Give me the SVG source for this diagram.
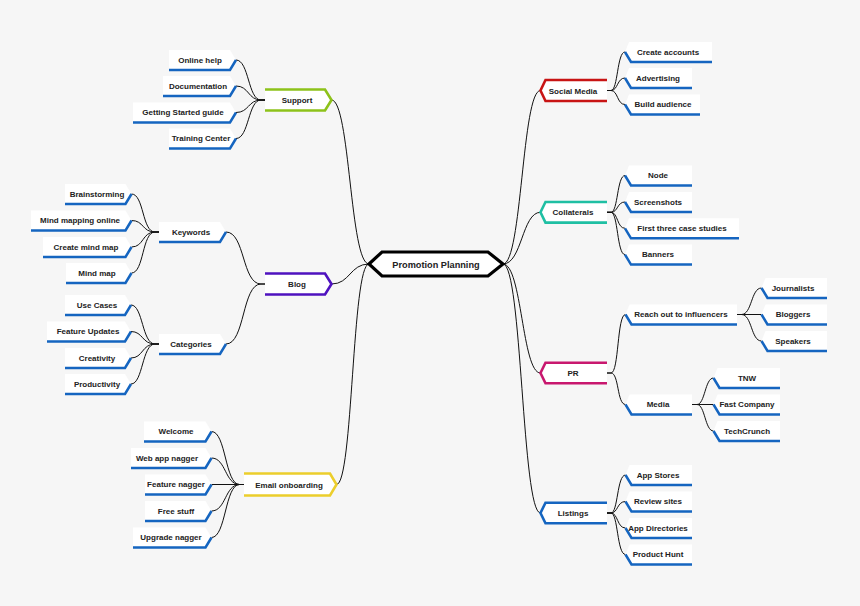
<svg xmlns="http://www.w3.org/2000/svg" width="860" height="606" viewBox="0 0 860 606">
<style>
.bg{fill:#f6f6f6}
.lf{fill:#ffffff;stroke:none}
.ul{fill:none;stroke:#1565c0;stroke-width:2.5;stroke-linejoin:miter}
.l1{fill:#ffffff;stroke-width:2.6}
.t{font-family:"Liberation Sans",Arial,sans-serif;font-weight:bold;font-size:8px;fill:#222;text-anchor:middle;dominant-baseline:central}
.c{fill:none;stroke:#111;stroke-width:1}
</style>
<rect class="bg" x="0" y="0" width="860" height="606"/>

<g id="connectors">
<!-- center to level 1 -->
<path class="c" d="M503,264 C522,264 522,90.5 540.5,90.5"/>
<path class="c" d="M503,264 C522,264 522,212.3 540.5,212.3"/>
<path class="c" d="M503,264 C522,264 522,373 540.5,373"/>
<path class="c" d="M503,264 C522,264 522,513 540.5,513"/>
<path class="c" d="M369,264 C350,264 350,100 331.5,100"/>
<path class="c" d="M369,264 C350,264 350,284 331.5,284"/>
<path class="c" d="M369,264 C352,264 353,484.5 336.5,484.5"/>
<!-- Support -->
<path class="c" d="M265,100 H261 C248,100 249,60 236,60"/>
<path class="c" d="M265,100 H261 C248,100 249,86 236,86"/>
<path class="c" d="M265,100 H261 C248,100 249,112.5 236,112.5"/>
<path class="c" d="M265,100 H261 C248,100 249,138.5 236,138.5"/>
<!-- Blog -->
<path class="c" d="M265,284 H261 C242,284 245,232 226,232"/>
<path class="c" d="M265,284 H261 C242,284 245,344 226,344"/>
<!-- Keywords -->
<path class="c" d="M159,232 H155 C142,232 144,194 131.5,194"/>
<path class="c" d="M159,232 H155 C142,232 144,220.5 131.5,220.5"/>
<path class="c" d="M159,232 H155 C142,232 144,247 131.5,247"/>
<path class="c" d="M159,232 H155 C142,232 144,273 131.5,273"/>
<!-- Categories -->
<path class="c" d="M159,344 H155 C142,344 143,305 131,305"/>
<path class="c" d="M159,344 H155 C142,344 143,331.5 131,331.5"/>
<path class="c" d="M159,344 H155 C142,344 143,358 131,358"/>
<path class="c" d="M159,344 H155 C142,344 143,384 131,384"/>
<!-- Email onboarding -->
<path class="c" d="M244,484.5 H239.5 C225,484.5 226,431.5 211.5,431.5"/>
<path class="c" d="M244,484.5 H239.5 C225,484.5 226,458 211.5,458"/>
<path class="c" d="M244,484.5 H211.5"/>
<path class="c" d="M244,484.5 H239.5 C225,484.5 226,511 211.5,511"/>
<path class="c" d="M244,484.5 H239.5 C225,484.5 226,537.5 211.5,537.5"/>
<!-- Social Media -->
<path class="c" d="M607,90.5 H611 C618,90.5 617,52 625,52"/>
<path class="c" d="M607,90.5 H611 C618,90.5 617,78 625,78"/>
<path class="c" d="M607,90.5 H611 C618,90.5 617,104.5 625,104.5"/>
<!-- Collaterals -->
<path class="c" d="M607,212.3 H611 C618,212.3 617,175.5 625,175.5"/>
<path class="c" d="M607,212.3 H611 C618,212.3 617,202 625,202"/>
<path class="c" d="M607,212.3 H611 C618,212.3 617,228.3 625,228.3"/>
<path class="c" d="M607,212.3 H611 C618,212.3 617,254.6 625,254.6"/>
<!-- PR -->
<path class="c" d="M607,373 H611 C619,373 617,314.5 625.5,314.5"/>
<path class="c" d="M607,373 H611 C619,373 617,404.5 625.5,404.5"/>
<!-- Reach out -->
<path class="c" d="M737,314.5 H741.5 C752,314.5 751,288 761.5,288"/>
<path class="c" d="M737,314.5 H761.5" stroke="#777"/>
<path class="c" d="M737,314.5 H741.5 C752,314.5 751,341 761.5,341"/>
<!-- Media -->
<path class="c" d="M692,404.5 H697 C705,404.5 705,378 713.5,378"/>
<path class="c" d="M692,404.5 H713.5" stroke="#888"/>
<path class="c" d="M692,404.5 H697 C705,404.5 705,431 713.5,431"/>
<!-- Listings -->
<path class="c" d="M607,513 H611 C618,513 617,475 625.5,475"/>
<path class="c" d="M607,513 H611 C618,513 617,501.5 625.5,501.5"/>
<path class="c" d="M607,513 H611 C618,513 617,528 625.5,528"/>
<path class="c" d="M607,513 H611 C618,513 617,554.5 625.5,554.5"/>
</g>

<g id="center">
<path d="M369,264 L382,252 H488 L503,264 L488,276 H382 Z" fill="#fff" stroke="#000" stroke-width="3.2" stroke-linejoin="miter"/>
<text class="t" x="436" y="264.5" style="font-size:9.2px">Promotion Planning</text>
</g>

<!-- LEFT LEVEL 1 -->
<g id="support">
<path class="l1" stroke="#8dc21a" d="M265,89.5 H325 L331.5,100 L325,110.5 H265"/>
<text class="t" x="297" y="100.5">Support</text>
</g>
<g id="blog">
<path class="l1" stroke="#4f12bf" d="M265,273.5 H325 L331.5,284 L325,294.5 H265"/>
<text class="t" x="297" y="284.5">Blog</text>
</g>
<g id="email-onboarding">
<path class="l1" stroke="#ecce2c" d="M244,473.5 H330 L336.5,484.5 L330,495.5 H244"/>
<text class="t" x="289" y="485">Email onboarding</text>
</g>

<!-- RIGHT LEVEL 1 -->
<g id="social-media">
<path class="l1" stroke="#c81414" d="M607,80 H545.5 L540.5,90.5 L545.5,101 H607"/>
<text class="t" x="573" y="91">Social Media</text>
</g>
<g id="collaterals">
<path class="l1" stroke="#1fbfa3" d="M607,202 H545.5 L540.5,212.3 L545.5,222.6 H607"/>
<text class="t" x="573" y="212.8">Collaterals</text>
</g>
<g id="pr">
<path class="l1" stroke="#c8176e" d="M607,362.7 H545.5 L540.5,373 L545.5,383.3 H607"/>
<text class="t" x="573" y="373.5">PR</text>
</g>
<g id="listings">
<path class="l1" stroke="#1565c0" d="M607,502.7 H545.5 L540.5,513 L545.5,523.3 H607"/>
<text class="t" x="573" y="513.5">Listings</text>
</g>

<!-- LEFT LEAVES: support -->
<g id="online-help"><path class="lf" d="M169,50 H230 L236,60 L230,70 H169 Z"/><path class="ul" d="M169,70 H230 L236,60"/><text class="t" x="200" y="60">Online help</text></g>
<g id="documentation"><path class="lf" d="M163,76 H230 L236,86 L230,96 H163 Z"/><path class="ul" d="M163,96 H230 L236,86"/><text class="t" x="198" y="86">Documentation</text></g>
<g id="getting-started"><path class="lf" d="M133,102.5 H230 L236,112.5 L230,122.5 H133 Z"/><path class="ul" d="M133,122.5 H230 L236,112.5"/><text class="t" x="183" y="112.5">Getting Started guide</text></g>
<g id="training-center"><path class="lf" d="M169,128.5 H230 L236,138.5 L230,148.5 H169 Z"/><path class="ul" d="M169,148.5 H230 L236,138.5"/><text class="t" x="201" y="138.5">Training Center</text></g>

<!-- blog: keywords / categories -->
<g id="keywords"><path class="lf" d="M159,222 H220 L226,232 L220,242 H159 Z"/><path class="ul" d="M159,242 H220 L226,232"/><text class="t" x="191" y="232">Keywords</text></g>
<g id="categories"><path class="lf" d="M159,334 H220 L226,344 L220,354 H159 Z"/><path class="ul" d="M159,354 H220 L226,344"/><text class="t" x="191" y="344">Categories</text></g>

<g id="brainstorming"><path class="lf" d="M65,184 H125.5 L131.5,194 L125.5,204 H65 Z"/><path class="ul" d="M65,204 H125.5 L131.5,194"/><text class="t" x="97" y="194">Brainstorming</text></g>
<g id="mind-mapping-online"><path class="lf" d="M31,210.5 H125.5 L131.5,220.5 L125.5,230.5 H31 Z"/><path class="ul" d="M31,230.5 H125.5 L131.5,220.5"/><text class="t" x="80" y="220.5">Mind mapping online</text></g>
<g id="create-mind-map"><path class="lf" d="M43,237 H125.5 L131.5,247 L125.5,257 H43 Z"/><path class="ul" d="M43,257 H125.5 L131.5,247"/><text class="t" x="86" y="247">Create mind map</text></g>
<g id="mind-map"><path class="lf" d="M66,263 H125.5 L131.5,273 L125.5,283 H66 Z"/><path class="ul" d="M66,283 H125.5 L131.5,273"/><text class="t" x="97" y="273">Mind map</text></g>

<g id="use-cases"><path class="lf" d="M65,295 H125 L131,305 L125,315 H65 Z"/><path class="ul" d="M65,315 H125 L131,305"/><text class="t" x="97" y="305">Use Cases</text></g>
<g id="feature-updates"><path class="lf" d="M47,321.5 H125 L131,331.5 L125,341.5 H47 Z"/><path class="ul" d="M47,341.5 H125 L131,331.5"/><text class="t" x="88" y="331.5">Feature Updates</text></g>
<g id="creativity"><path class="lf" d="M65,348 H125 L131,358 L125,368 H65 Z"/><path class="ul" d="M65,368 H125 L131,358"/><text class="t" x="97" y="358">Creativity</text></g>
<g id="productivity"><path class="lf" d="M65,374 H125 L131,384 L125,394 H65 Z"/><path class="ul" d="M65,394 H125 L131,384"/><text class="t" x="97" y="384">Productivity</text></g>

<!-- email leaves -->
<g id="welcome"><path class="lf" d="M144,421.5 H205.5 L211.5,431.5 L205.5,441.5 H144 Z"/><path class="ul" d="M144,441.5 H205.5 L211.5,431.5"/><text class="t" x="176" y="431.5">Welcome</text></g>
<g id="web-app-nagger"><path class="lf" d="M131,448 H205.5 L211.5,458 L205.5,468 H131 Z"/><path class="ul" d="M131,468 H205.5 L211.5,458"/><text class="t" x="167" y="458">Web app nagger</text></g>
<g id="feature-nagger"><path class="lf" d="M145,474.5 H205.5 L211.5,484.5 L205.5,494.5 H145 Z"/><path class="ul" d="M145,494.5 H205.5 L211.5,484.5"/><text class="t" x="176" y="484.5">Feature nagger</text></g>
<g id="free-stuff"><path class="lf" d="M145,501 H205.5 L211.5,511 L205.5,521 H145 Z"/><path class="ul" d="M145,521 H205.5 L211.5,511"/><text class="t" x="176" y="511">Free stuff</text></g>
<g id="upgrade-nagger"><path class="lf" d="M133,527.5 H205.5 L211.5,537.5 L205.5,547.5 H133 Z"/><path class="ul" d="M133,547.5 H205.5 L211.5,537.5"/><text class="t" x="171" y="537.5">Upgrade nagger</text></g>

<!-- RIGHT LEAVES: social media -->
<g id="create-accounts"><path class="lf" d="M629,42 H712 V62 H631 L625,52 Z"/><path class="ul" d="M625,52 L631,62 H712"/><text class="t" x="668" y="52">Create accounts</text></g>
<g id="advertising"><path class="lf" d="M629,68 H692 V88 H631 L625,78 Z"/><path class="ul" d="M625,78 L631,88 H692"/><text class="t" x="658" y="78">Advertising</text></g>
<g id="build-audience"><path class="lf" d="M629,94.5 H700 V114.5 H631 L625,104.5 Z"/><path class="ul" d="M625,104.5 L631,114.5 H700"/><text class="t" x="663" y="104.5">Build audience</text></g>

<!-- collaterals -->
<g id="node"><path class="lf" d="M629,165.5 H692 V185.5 H631 L625,175.5 Z"/><path class="ul" d="M625,175.5 L631,185.5 H692"/><text class="t" x="658" y="175.5">Node</text></g>
<g id="screenshots"><path class="lf" d="M629,192 H692 V212 H631 L625,202 Z"/><path class="ul" d="M625,202 L631,212 H692"/><text class="t" x="658" y="202">Screenshots</text></g>
<g id="first-three-case-studies"><path class="lf" d="M629,218.3 H739 V238.3 H631 L625,228.3 Z"/><path class="ul" d="M625,228.3 L631,238.3 H739"/><text class="t" x="682" y="228.3">First three case studies</text></g>
<g id="banners"><path class="lf" d="M629,244.6 H692 V264.6 H631 L625,254.6 Z"/><path class="ul" d="M625,254.6 L631,264.6 H692"/><text class="t" x="658" y="254.6">Banners</text></g>

<!-- PR -->
<g id="reach-out"><path class="lf" d="M629.5,304.5 H737 V324.5 H631.5 L625.5,314.5 Z"/><path class="ul" d="M625.5,314.5 L631.5,324.5 H737"/><text class="t" x="681" y="314.5">Reach out to influencers</text></g>
<g id="media"><path class="lf" d="M629.5,394.5 H692 V414.5 H631.5 L625.5,404.5 Z"/><path class="ul" d="M625.5,404.5 L631.5,414.5 H692"/><text class="t" x="658" y="404.5">Media</text></g>

<g id="journalists"><path class="lf" d="M765.5,278 H827 V298 H767.5 L761.5,288 Z"/><path class="ul" d="M761.5,288 L767.5,298 H827"/><text class="t" x="793" y="288">Journalists</text></g>
<g id="bloggers"><path class="lf" d="M765.5,304.5 H827 V324.5 H767.5 L761.5,314.5 Z"/><path class="ul" d="M761.5,314.5 L767.5,324.5 H827"/><text class="t" x="793" y="314.5">Bloggers</text></g>
<g id="speakers"><path class="lf" d="M765.5,331 H827 V351 H767.5 L761.5,341 Z"/><path class="ul" d="M761.5,341 L767.5,351 H827"/><text class="t" x="793" y="341">Speakers</text></g>

<g id="tnw"><path class="lf" d="M717.5,368 H780 V388 H719.5 L713.5,378 Z"/><path class="ul" d="M713.5,378 L719.5,388 H780"/><text class="t" x="747" y="378">TNW</text></g>
<g id="fast-company"><path class="lf" d="M717.5,394.5 H780 V414.5 H719.5 L713.5,404.5 Z"/><path class="ul" d="M713.5,404.5 L719.5,414.5 H780"/><text class="t" x="747" y="404.5">Fast Company</text></g>
<g id="techcrunch"><path class="lf" d="M717.5,421 H780 V441 H719.5 L713.5,431 Z"/><path class="ul" d="M713.5,431 L719.5,441 H780"/><text class="t" x="747" y="431">TechCrunch</text></g>

<!-- listings -->
<g id="app-stores"><path class="lf" d="M629.5,465 H692 V485 H631.5 L625.5,475 Z"/><path class="ul" d="M625.5,475 L631.5,485 H692"/><text class="t" x="658" y="475">App Stores</text></g>
<g id="review-sites"><path class="lf" d="M629.5,491.5 H692 V511.5 H631.5 L625.5,501.5 Z"/><path class="ul" d="M625.5,501.5 L631.5,511.5 H692"/><text class="t" x="658" y="501.5">Review sites</text></g>
<g id="app-directories"><path class="lf" d="M629.5,518 H692 V538 H631.5 L625.5,528 Z"/><path class="ul" d="M625.5,528 L631.5,538 H692"/><text class="t" x="658" y="528">App Directories</text></g>
<g id="product-hunt"><path class="lf" d="M629.5,544.5 H692 V564.5 H631.5 L625.5,554.5 Z"/><path class="ul" d="M625.5,554.5 L631.5,564.5 H692"/><text class="t" x="658" y="554.5">Product Hunt</text></g>
</svg>
